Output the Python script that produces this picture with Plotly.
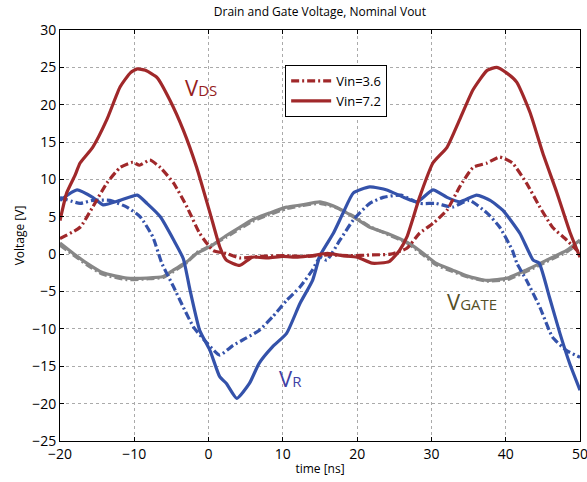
import plotly.graph_objects as go

# --- data ---
t_vds_72 = [-20, -19.1, -18, -17.3, -15.6, -13.7, -11.9, -10.5, -9.6, -8.5, -6.9, -5.2, -3.4, -1.6, 0.2, 1.5, 2.4, 4.2, 5.9, 8, 10, 12, 14, 16, 18, 20, 22, 24.3, 25.7, 26.7, 28.4, 30.2, 32.1, 33.8, 35.6, 37.5, 38.8, 40.2, 41.5, 43.3, 45, 46.9, 48.7, 50]
v_vds_72 = [4.5, 8.2, 10.5, 12.2, 14.3, 18, 22.4, 24.3, 24.8, 24.6, 23.6, 20.6, 16.6, 11.6, 5.5, 1, -0.8, -1.5, -0.4, -0.5, -0.3, -0.4, -0.2, 0.1, -0.2, -0.4, -1.2, -1, 0.5, 2.3, 7.6, 12.2, 14.3, 18, 22, 24.6, 25, 24.2, 23, 18.9, 13.5, 8.2, 2.8, -0.4]

t_vds_36 = [-20, -17.3, -15.6, -13.7, -11.9, -10.2, -9.3, -7.9, -6.5, -4.7, -2.9, -1.2, 0.6, 2.4, 4.2, 7, 10, 13, 16, 19, 22, 24.5, 26.7, 28.4, 30.2, 32.1, 33.8, 35.6, 37.5, 39.2, 40.9, 42.8, 44.6, 46.3, 48.2, 50]
v_vds_36 = [2.1, 3.6, 6.3, 9.5, 11.6, 12.3, 11.9, 12.6, 11.6, 9.5, 6.3, 2.8, 0.5, 0.1, -0.5, -0.3, -0.2, -0.3, -0.1, -0.2, -0.1, 0, 0.8, 2.8, 4.1, 5.9, 9, 11.6, 12.2, 13, 12.2, 9.5, 6.3, 3.6, 1.9, 0.1]

t_vr_72 = [-20, -17.7, -15.6, -14.2, -11.9, -9.6, -8.3, -6.5, -4.7, -3.4, -2.5, -1.2, 0.2, 1.5, 2.4, 3.8, 5.5, 6.8, 8.6, 10.5, 12.3, 14, 15, 16.8, 18.1, 19.5, 21.7, 24, 26.3, 28.1, 30.2, 32.1, 33.8, 36.1, 37.9, 39.6, 41.9, 43.7, 44.5, 45.9, 47.3, 48.6, 50]
v_vr_72 = [7.2, 8.6, 7.6, 6.6, 7.2, 7.9, 6.8, 5, 1.9, -0.6, -4.8, -10.2, -12.9, -16.4, -17.3, -19.3, -17.3, -14.6, -12.4, -10.6, -6.6, -3.5, -0.2, 2.8, 5.5, 8.2, 9, 8.6, 7.6, 7, 8.6, 7.6, 7, 7.9, 7.2, 5.9, 2.8, -0.8, -1.2, -5.8, -10.6, -14.6, -18.2]

t_vr_36 = [-20, -17.3, -15.6, -13.3, -11, -9.2, -7.5, -6.3, -4.7, -3.4, -2, -0.2, 1.5, 3.3, 5.1, 6.8, 8.6, 10.5, 12.3, 14, 15, 15.9, 17.7, 19.5, 21.7, 23.5, 25.9, 28.4, 30.6, 32.8, 35.1, 37.5, 39.2, 40.9, 41.5, 42.8, 44.6, 46.3, 48.2, 50]
v_vr_36 = [7.6, 6.8, 7.2, 7.2, 6.3, 5, 2.3, -1.2, -4.4, -7.1, -9.8, -11.9, -13.5, -12.2, -11.2, -10.2, -8.4, -6.2, -4.4, -2.1, -0.4, -0.8, 1.9, 4.6, 6.8, 7.6, 7.9, 6.8, 6.8, 6.3, 7.2, 5.5, 3.6, 0.5, -1.2, -3.5, -7.1, -11.1, -12.9, -13.8]

t_vg_72 = [-20, -18.2, -16.4, -14.2, -11, -8.3, -6.1, -4.7, -2.9, -1.6, 0.2, 2.4, 4.2, 5.9, 8.2, 10.5, 12.6, 15, 17.2, 19.5, 21.7, 24, 26.7, 28.4, 30.6, 32.8, 35.1, 37.5, 40.2, 42.8, 45.5, 48.2, 50]
v_vg_72 = [1.5, 0.1, -1.2, -2.5, -3.2, -3.2, -3, -2.1, -1, 0.1, 1, 2.5, 3.6, 4.6, 5.5, 6.3, 6.6, 7, 6.3, 5, 3.6, 2.8, 1.6, 0.5, -1.2, -2.1, -3, -3.5, -3.2, -2.1, -0.8, 0.5, 1.9]

t_vg_36 = [-20, -18.2, -16.4, -14.2, -11, -8.3, -6.1, -4.7, -2.9, -1.6, 0.2, 2.4, 4.2, 5.9, 8.2, 10.5, 12.6, 15, 17.2, 19.5, 21.7, 24, 26.7, 28.4, 30.6, 32.8, 35.1, 37.5, 40.2, 42.8, 45.5, 48.2, 50]
v_vg_36 = [1.2, -0.1, -1.4, -2.7, -3.4, -3.3, -3.1, -2.3, -1.1, 0.2, 1.1, 2.3, 3.4, 4.4, 5.3, 6.1, 6.5, 6.8, 6.2, 5.1, 3.7, 2.7, 1.5, 0.3, -1.4, -2.3, -3.1, -3.6, -3.4, -2.3, -1, 0.3, 1.6]

x_ticks = [-20, -10, 0, 10, 20, 30, 40, 50]
y_ticks = [-25, -20, -15, -10, -5, 0, 5, 10, 15, 20, 25, 30]

RED = "rgb(160,40,42)"
BLUE = "rgb(52,82,170)"
GRAY = "rgb(135,135,135)"
DASH = "8px,3px,2px,3px"
LW = 3.2
SHAPE = dict(shape="spline", smoothing=0.5)

fig = go.Figure()
fig.add_trace(go.Scatter(x=t_vg_36, y=v_vg_36, mode="lines", line=dict(color=GRAY, width=LW, dash=DASH, **SHAPE), showlegend=False))
fig.add_trace(go.Scatter(x=t_vg_72, y=v_vg_72, mode="lines", line=dict(color=GRAY, width=LW, **SHAPE), showlegend=False))
fig.add_trace(go.Scatter(x=t_vr_36, y=v_vr_36, mode="lines", line=dict(color=BLUE, width=LW, dash=DASH, **SHAPE), showlegend=False))
fig.add_trace(go.Scatter(x=t_vr_72, y=v_vr_72, mode="lines", line=dict(color=BLUE, width=LW, **SHAPE), showlegend=False))
fig.add_trace(go.Scatter(x=t_vds_36, y=v_vds_36, mode="lines", name="Vin=3.6", line=dict(color=RED, width=LW, dash=DASH, **SHAPE)))
fig.add_trace(go.Scatter(x=t_vds_72, y=v_vds_72, mode="lines", name="Vin=7.2", line=dict(color=RED, width=LW, **SHAPE)))

FONT = "Open Sans"
axis_common = dict(
    showline=True, linecolor="black", linewidth=1, mirror="ticks",
    ticks="inside", ticklen=4, tickcolor="black",
    showgrid=True, gridcolor="rgb(170,170,170)", griddash="dot", gridwidth=1,
    zeroline=False, tickfont=dict(size=14, color="black", family=FONT),
    automargin=False, ticklabeloverflow="allow",
)
fig.update_xaxes(range=[-20, 50], tickvals=x_ticks, **axis_common,
                 title=dict(text="time [ns]", font=dict(size=12, family=FONT, color="black"), standoff=2))
fig.update_yaxes(range=[-25, 30], tickvals=y_ticks, **axis_common,
                 title=dict(text="Voltage [V]", font=dict(size=12, family=FONT, color="black"), standoff=4))

fig.update_layout(
    width=587, height=482,
    margin=dict(l=60, r=7, t=30, b=41),
    paper_bgcolor="white", plot_bgcolor="white",
    title=dict(text="Drain and Gate Voltage, Nominal Vout", x=0.545, xanchor="center", y=0.985, yanchor="top",
               font=dict(size=12, family=FONT, color="black")),
    legend=dict(x=0.433, y=0.915, xanchor="left", yanchor="top", bgcolor="white",
                bordercolor="black", borderwidth=1, font=dict(size=13, family=FONT, color="black"),
                tracegroupgap=0, itemwidth=40),
    annotations=[
        dict(x=-1.0, y=22.4, xref="x", yref="y", showarrow=False,
             text="V<span style='font-size:15px'>DS</span>", font=dict(size=22, family=FONT, color="rgb(150,30,30)")),
        dict(x=11.0, y=-16.6, xref="x", yref="y", showarrow=False,
             text="V<span style='font-size:15px'>R</span>", font=dict(size=22, family=FONT, color="rgb(65,65,165)")),
        dict(x=35.4, y=-6.3, xref="x", yref="y", showarrow=False,
             text="V<span style='font-size:15px'>GATE</span>", font=dict(size=22, family=FONT, color="rgb(85,80,40)")),
    ],
)

fig.write_html("out.html", config={"displayModeBar": False},
               post_script="document.body.style.margin='0';document.body.style.overflow='hidden';")
